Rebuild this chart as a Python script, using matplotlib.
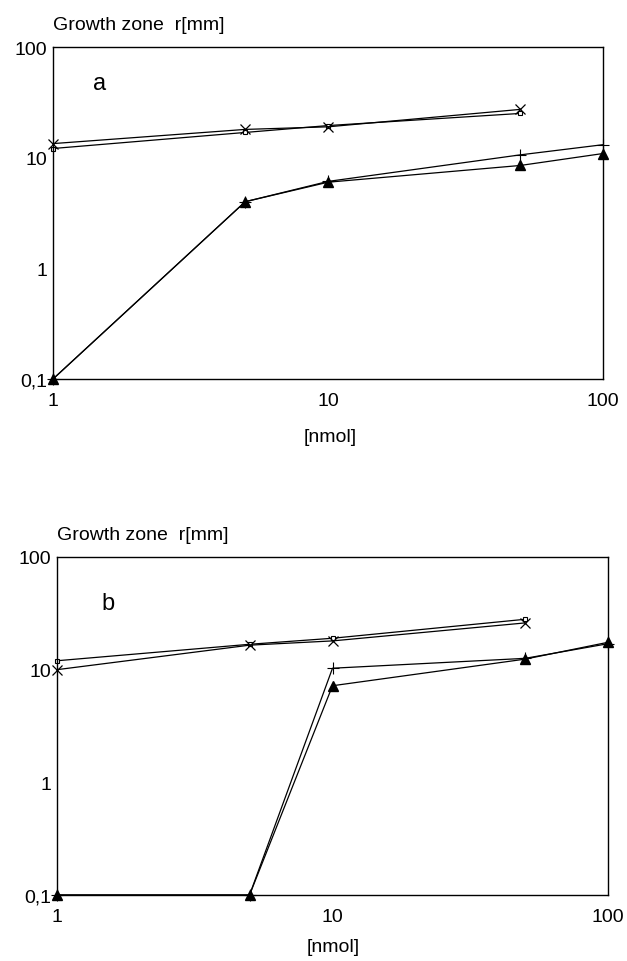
import matplotlib.pyplot as plt
from matplotlib.ticker import FixedLocator, FixedFormatter, NullLocator

plt.rcParams["font.family"] = ["Liberation Sans", "DejaVu Sans"]

# DATA
dose = [1, 5, 10, 50, 100]
dose_top = [1, 5, 10, 50]

# panel a
a_square = [12.1, 16.9, 19.5, 25.1]
a_cross = [13.4, 18.0, 19.0, 27.3]
a_plus = [0.1, 4.0, 6.1, 10.6, 13.1]
a_triangle = [0.1, 4.0, 6.0, 8.5, 10.9]

# panel b
b_square = [12.0, 16.8, 19.0, 28.0]
b_cross = [10.0, 16.5, 18.0, 26.0]
b_plus = [0.1, 0.1, 10.3, 12.6, 17.0]
b_triangle = [0.1, 0.1, 7.2, 12.4, 17.5]

y_ticks = [0.1, 1, 10, 100]
y_labels = ["0,1", "1", "10", "100"]
x_ticks = [1, 10, 100]
x_labels = ["1", "10", "100"]

W, H = 627, 962
FS = 14


def px_rect(left, top, right, bottom):
    return [left / W, 1 - bottom / H, (right - left) / W, (bottom - top) / H]


def draw_panel(ax, square, cross, plus, triangle):
    kw = dict(color="black", lw=0.9)
    ax.plot(dose_top, square, marker="s", ms=3.5, mfc="white", mec="black", mew=0.8, **kw)
    ax.plot(dose_top, cross, marker="x", ms=7.5, mew=0.9, **kw)
    ax.plot(dose, plus, marker="+", ms=9, mew=0.8, **kw)
    ax.plot(dose, triangle, marker="^", ms=7.5, mfc="black", mec="black", **kw)

    ax.set_xscale("log")
    ax.set_yscale("log")
    ax.set_xlim(1, 100)
    ax.set_ylim(0.1, 100)

    ax.xaxis.set_major_locator(FixedLocator(x_ticks))
    ax.xaxis.set_major_formatter(FixedFormatter(x_labels))
    ax.yaxis.set_major_locator(FixedLocator(y_ticks))
    ax.yaxis.set_major_formatter(FixedFormatter(y_labels))
    ax.xaxis.set_minor_locator(NullLocator())
    ax.yaxis.set_minor_locator(NullLocator())
    ax.tick_params(axis="both", length=0, labelsize=FS)
    ax.tick_params(axis="x", pad=9)
    ax.tick_params(axis="y", pad=4)

    for sp in ax.spines.values():
        sp.set_linewidth(1.0)
        sp.set_color("black")
    for ln in ax.lines:
        ln.set_clip_on(False)


fig = plt.figure(figsize=(W / 100, H / 100), dpi=100)

ax_a = fig.add_axes(px_rect(53, 48, 603, 380))
draw_panel(ax_a, a_square, a_cross, a_plus, a_triangle)

ax_b = fig.add_axes(px_rect(57, 558, 608, 896))
draw_panel(ax_b, b_square, b_cross, b_plus, b_triangle)

# texts
fig.text(53 / W, 1 - 25 / H, "Growth zone  r[mm]", fontsize=FS, va="center", ha="left")
fig.text(57 / W, 1 - 536 / H, "Growth zone  r[mm]", fontsize=FS, va="center", ha="left")
fig.text(100 / W, 1 - 84 / H, "a", fontsize=17, va="center", ha="center")
fig.text(108 / W, 1 - 604 / H, "b", fontsize=17, va="center", ha="center")
fig.text(330 / W, 1 - 437 / H, "[nmol]", fontsize=FS, va="center", ha="center")
fig.text(333 / W, 1 - 948 / H, "[nmol]", fontsize=FS, va="center", ha="center")

fig.savefig("out.png", dpi=100, facecolor="white")
